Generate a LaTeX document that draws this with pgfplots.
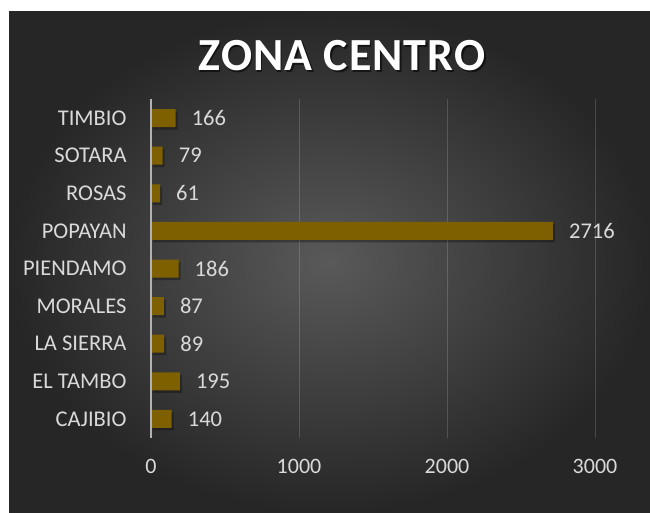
\documentclass[border=0pt]{standalone}
\usepackage{fontspec}
\setmainfont{Carlito}
\usepackage{pgfplots}
\pgfplotsset{compat=1.18}
\definecolor{barc}{HTML}{7F6000}
\definecolor{lbl}{HTML}{D9D9D9}
\begin{document}
\begin{tikzpicture}[x=1pt,y=1pt]
\fill[white] (0,0) rectangle (650,512);
\shade[inner color=black!65, outer color=black!85] (9,0) rectangle (650,500);
\node[black, opacity=0.55] at (343.5,454.5) {\fontsize{46}{54}\selectfont\bfseries Z\kern1ptO\kern1ptN\kern1ptA\kern1pt{} C\kern1ptE\kern1ptN\kern1ptT\kern1ptR\kern1ptO};
\node[white] at (342,456) {\fontsize{46}{54}\selectfont\bfseries Z\kern1ptO\kern1ptN\kern1ptA\kern1pt{} C\kern1ptE\kern1ptN\kern1ptT\kern1ptR\kern1ptO};
\begin{axis}[
  at={(151pt,74.2pt)}, anchor=south west, scale only axis,
  width=444pt, height=338.6pt,
  xmin=0, xmax=3000, ymin=-0.5, ymax=8.5,
  xbar, bar width=18pt, bar shift=0pt,
  axis line style={draw=none}, major tick style={draw=none},
  xtick={0,1000,2000,3000}, xmajorgrids,
  grid style={white, opacity=0.16, line width=0.9pt},
  ytick={0,...,8},
  yticklabels={CAJIBIO,EL TAMBO,LA SIERRA,MORALES,PIENDAMO,POPAYAN,ROSAS,SOTARA,TIMBIO},
  ticklabel style={font=\fontsize{22}{26}\selectfont, text=lbl},
  /pgf/number format/assume math mode=true,
  /pgf/number format/1000 sep={},
  scaled x ticks=false,
  xticklabel style={anchor=center, inner sep=0pt, yshift=-29pt},
  yticklabel style={anchor=east, inner sep=0pt, xshift=-20pt, font=\fontsize{22.5}{26}\selectfont},
  clip=false,
]
\addplot[fill=black, draw=none, opacity=0.3, bar shift=0pt, xshift=2pt, yshift=-2.5pt] coordinates {
(140,0) (195,1) (89,2) (87,3) (186,4) (2716,5) (61,6) (79,7) (166,8)};
\addplot[fill=barc, draw=none, bar shift=0pt, nodes near coords, point meta=x,
  nodes near coords style={anchor=west, inner sep=0pt, xshift=16pt, text=lbl, font=\fontsize{22.5}{26}\selectfont}]
 coordinates {
(140,0) (195,1) (89,2) (87,3) (186,4) (2716,5) (61,6) (79,7) (166,8)};
\draw[color=black!30, line width=2pt] (axis cs:0,-0.5) -- (axis cs:0,8.5);
\end{axis}
\end{tikzpicture}
\end{document}
